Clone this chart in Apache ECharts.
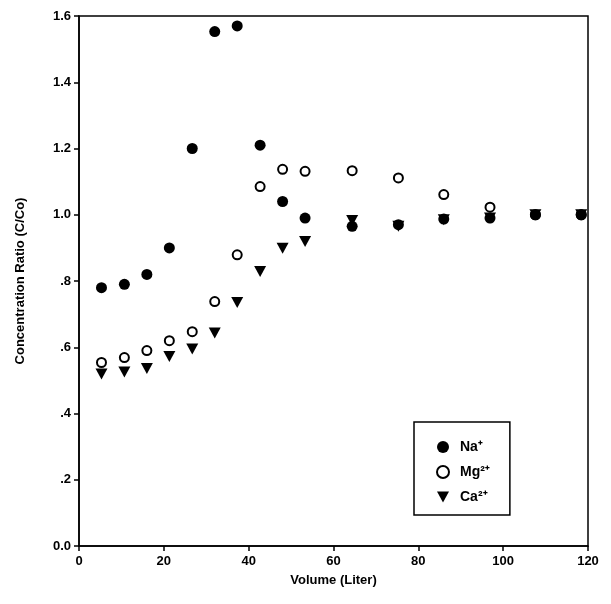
<!DOCTYPE html>
<html>
<head>
<meta charset="utf-8">
<script src="https://cdn.jsdelivr.net/npm/echarts@6/dist/echarts.min.js"></script>
<style>
html, body { margin: 0; padding: 0; background: #fff; }
#chart { width: 611px; height: 604px; }
</style>
</head>
<body>
<div id="chart"></div>
<script>
// volume (Liter) at each sample
var volume = [5.3, 10.7, 16.0, 21.3, 26.7, 32.0, 37.3, 42.7, 48.0, 53.3, 64.4, 75.3, 86.0, 96.9, 107.6, 118.4];
// concentration ratio C/Co
var naRatio = [0.78, 0.79, 0.82, 0.90, 1.20, 1.553, 1.57, 1.21, 1.04, 0.99, 0.965, 0.97, 0.987, 0.99, 1.0, 1.0];
var mgRatio = [0.554, 0.569, 0.59, 0.62, 0.647, 0.738, 0.879, 1.085, 1.137, 1.131, 1.133, 1.111, 1.061, 1.023, 1.0, 1.0];
var caRatio = [0.519, 0.525, 0.536, 0.572, 0.595, 0.643, 0.735, 0.829, 0.899, 0.919, 0.983, 0.965, 0.985, 0.99, 1.0, 1.0];
var seriesNames = ['Na\u207A', 'Mg\u00B2\u207A', 'Ca\u00B2\u207A'];
var yTickLabels = {'0': '0.0', '0.2': '.2', '0.4': '.4', '0.6': '.6', '0.8': '.8', '1': '1.0', '1.2': '1.2', '1.4': '1.4', '1.6': '1.6'};

function pairs(xs, ys) {
    var out = [];
    for (var i = 0; i < xs.length; i++) {
        out.push([xs[i], ys[i]]);
    }
    return out;
}

var font = 'Liberation Sans, Arial, sans-serif';
var downTriangle = 'path://M0,0 L10,0 L5,9 Z';
var myChart = echarts.init(document.getElementById('chart'));
var option = {
    backgroundColor: '#fff',
    animation: false,
    grid: {
        left: 79,
        right: 23,
        top: 16,
        bottom: 58,
        show: true,
        borderColor: '#000',
        borderWidth: 1.5
    },
    legend: {
        left: 414,
        top: 422,
        orient: 'vertical',
        borderColor: '#000',
        borderWidth: 1.5,
        padding: [18, 20, 11, 22],
        itemGap: 11,
        itemWidth: 12,
        itemHeight: 12,
        textStyle: {
            fontFamily: font,
            fontWeight: 'bold',
            fontSize: 14,
            color: '#000',
            padding: [0, 0, 0, 6]
        },
        data: [
            { name: seriesNames[0], icon: 'circle' },
            { name: seriesNames[1], icon: 'emptyCircle' },
            { name: seriesNames[2], icon: downTriangle }
        ]
    },
    xAxis: {
        type: 'value',
        min: 0,
        max: 120,
        interval: 20,
        name: 'Volume (Liter)',
        nameLocation: 'middle',
        nameGap: 28,
        nameTextStyle: { fontFamily: font, fontWeight: 'bold', fontSize: 13, color: '#000' },
        splitLine: { show: false },
        axisLine: { lineStyle: { color: '#000', width: 1.5 } },
        axisTick: { show: true, inside: false, length: 5, lineStyle: { color: '#000', width: 1.5 } },
        axisLabel: { fontFamily: font, fontWeight: 'bold', fontSize: 13, color: '#000', margin: 9 }
    },
    yAxis: {
        type: 'value',
        min: 0,
        max: 1.6,
        interval: 0.2,
        name: 'Concentration Ratio (C/Co)',
        nameLocation: 'middle',
        nameGap: 52,
        nameTextStyle: { fontFamily: font, fontWeight: 'bold', fontSize: 13, color: '#000' },
        splitLine: { show: false },
        axisLine: { lineStyle: { color: '#000', width: 1.5 } },
        axisTick: { show: true, inside: false, length: 5, lineStyle: { color: '#000', width: 1.5 } },
        axisLabel: {
            fontFamily: font, fontWeight: 'bold', fontSize: 13, color: '#000', margin: 8,
            formatter: function (v) {
                var k = String(Math.round(v * 10) / 10);
                return yTickLabels[k] !== undefined ? yTickLabels[k] : k;
            }
        }
    },
    series: [
        {
            name: seriesNames[0],
            type: 'scatter',
            symbol: 'circle',
            symbolSize: 11,
            itemStyle: { color: '#000', opacity: 1 },
            data: pairs(volume, naRatio),
            z: 3
        },
        {
            name: seriesNames[1],
            type: 'scatter',
            symbol: 'emptyCircle',
            symbolSize: 9,
            itemStyle: { color: '#000', borderColor: '#000', borderWidth: 1.8, opacity: 1 },
            data: pairs(volume, mgRatio),
            z: 2
        },
        {
            name: seriesNames[2],
            type: 'scatter',
            symbol: downTriangle,
            symbolSize: [12, 11],
            itemStyle: { color: '#000', opacity: 1 },
            data: pairs(volume, caRatio),
            z: 1
        }
    ]
};
myChart.setOption(option);
</script>
</body>
</html>
